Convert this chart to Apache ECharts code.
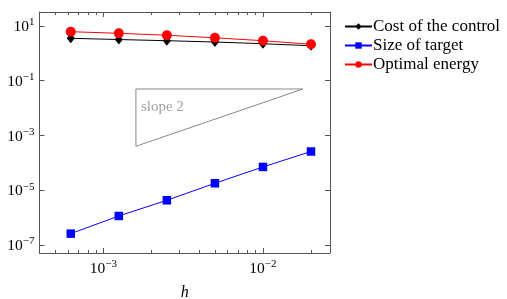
<!DOCTYPE html>
<html>
<head>
<meta charset="utf-8">
<script src="https://cdn.jsdelivr.net/npm/echarts@6.0.0/dist/echarts.min.js"></script>
<style>
  html, body { margin: 0; padding: 0; background: #fff; }
  #chart { width: 507px; height: 299px; }
</style>
</head>
<body>
<div id="chart"></div>
<script>
// mesh sizes h
const hValues = [0.000625, 0.00125, 0.0025, 0.005, 0.01, 0.02]
// series
const costControl = [3.55, 3.2, 2.9, 2.6, 2.25, 1.9]
const sizeTarget = [2.6e-7, 1.15e-6, 4.3e-6, 1.8e-5, 7.1e-5, 2.6e-4]
const optimalEnergy = [6.2, 5.4, 4.6, 3.7, 2.9, 2.15]
// slope-2 reference triangle (data coords)
const slopeTriangle = [[0.0016, 0.05], [0.0178, 0.05], [0.0016, 0.000404], [0.0016, 0.05]]
const slopeLabelAt = [0.0016, 0.011]
// ticks
const xTickValues = [1e-3, 1e-2]
const xMinorTicks = [5e-4, 6e-4, 7e-4, 8e-4, 9e-4, 2e-3, 3e-3, 4e-3, 5e-3, 6e-3, 7e-3, 8e-3, 9e-3, 2e-2]
const yTickValues = [1e-7, 1e-5, 1e-3, 1e-1, 1e1]

const serif = 'Liberation Serif'
const frameColor = '#555'

function powLabel(v) {
  const e = Math.round(Math.log10(v))
  return '{b|10}{e|' + (e < 0 ? '\u2212' + (-e) : e) + '}'
}
const powRich = {
  b: { fontFamily: serif, fontSize: 15.5, color: '#000', lineHeight: 18, verticalAlign: 'bottom' },
  e: { fontFamily: serif, fontSize: 11, color: '#000', lineHeight: 18, verticalAlign: 'top' }
}

const xMin = Math.pow(10, -3.40)
const xMax = Math.pow(10, -1.58)
const yMin = Math.pow(10, -7.292)
const yMax = Math.pow(10, 1.511)

function xAx(pos, ticks, len, labels, line) {
  return {
    type: 'log', logBase: 10, position: pos, min: xMin, max: xMax,
    axisLine: { show: line, lineStyle: { color: frameColor, width: 1 } },
    axisTick: { show: true, inside: true, length: len, customValues: ticks, lineStyle: { color: frameColor } },
    axisLabel: labels ? { show: true, customValues: ticks, formatter: powLabel, rich: powRich, margin: 6 } : { show: false },
    splitLine: { show: false },
    minorTick: { show: false }
  }
}

const chart = echarts.init(document.getElementById('chart'), null, { renderer: 'canvas' })

chart.setOption({
  animation: false,
  grid: { left: 39.5, top: 12, width: 290.5, height: 241, containLabel: false, outerBoundsMode: 'none' },
  legend: {
    data: ['Cost of the control', 'Size of target', 'Optimal energy'],
    orient: 'vertical',
    left: 344,
    top: 18,
    padding: 0,
    itemWidth: 27,
    itemHeight: 8,
    itemGap: 2,
    textStyle: { fontFamily: serif, fontSize: 17, color: '#000', padding: [0, 0, 0, -4] }
  },
  xAxis: [
    Object.assign(xAx('bottom', xTickValues, 5, true, true), {
      name: 'h', nameLocation: 'middle', nameGap: 32,
      nameTextStyle: { fontFamily: serif, fontStyle: 'italic', fontSize: 16, color: '#000' }
    }),
    xAx('bottom', xMinorTicks, 3, false, false),
    xAx('top', xTickValues, 5, false, true),
    xAx('top', xMinorTicks, 3, false, false)
  ],
  yAxis: [
    {
      type: 'log', logBase: 10, position: 'left', min: yMin, max: yMax,
      axisLine: { show: true, lineStyle: { color: frameColor } },
      axisTick: { show: true, inside: true, length: 5, customValues: yTickValues, lineStyle: { color: frameColor } },
      axisLabel: { customValues: yTickValues, formatter: powLabel, rich: powRich, margin: 5 },
      splitLine: { show: false }
    },
    {
      type: 'log', logBase: 10, position: 'right', min: yMin, max: yMax,
      axisLine: { show: true, lineStyle: { color: frameColor } },
      axisTick: { show: true, inside: true, length: 5, customValues: yTickValues, lineStyle: { color: frameColor } },
      axisLabel: { show: false },
      splitLine: { show: false }
    }
  ],
  series: [
    {
      name: 'slope', type: 'line', silent: true, symbol: 'none',
      data: slopeTriangle,
      lineStyle: { color: '#888', width: 1 }
    },
    {
      name: 'slopeLabel', type: 'scatter', silent: true, symbolSize: 0,
      data: [slopeLabelAt],
      label: { show: true, position: 'right', distance: 5, formatter: 'slope 2', fontFamily: serif, fontSize: 15, color: '#888' }
    },
    {
      name: 'Cost of the control', type: 'line',
      data: hValues.map((h, i) => [h, costControl[i]]),
      symbol: 'diamond', symbolSize: [8, 10],
      itemStyle: { color: '#000' },
      lineStyle: { color: '#000', width: 1 }
    },
    {
      name: 'Size of target', type: 'line',
      data: hValues.map((h, i) => [h, sizeTarget[i]]),
      symbol: 'rect', symbolSize: 8.5,
      itemStyle: { color: '#0000ff' },
      lineStyle: { color: '#0000ff', width: 1 }
    },
    {
      name: 'Optimal energy', type: 'line',
      data: hValues.map((h, i) => [h, optimalEnergy[i]]),
      symbol: 'circle', symbolSize: 10,
      itemStyle: { color: '#ff0000' },
      lineStyle: { color: '#ff0000', width: 1 }
    }
  ]
})
</script>
</body>
</html>
